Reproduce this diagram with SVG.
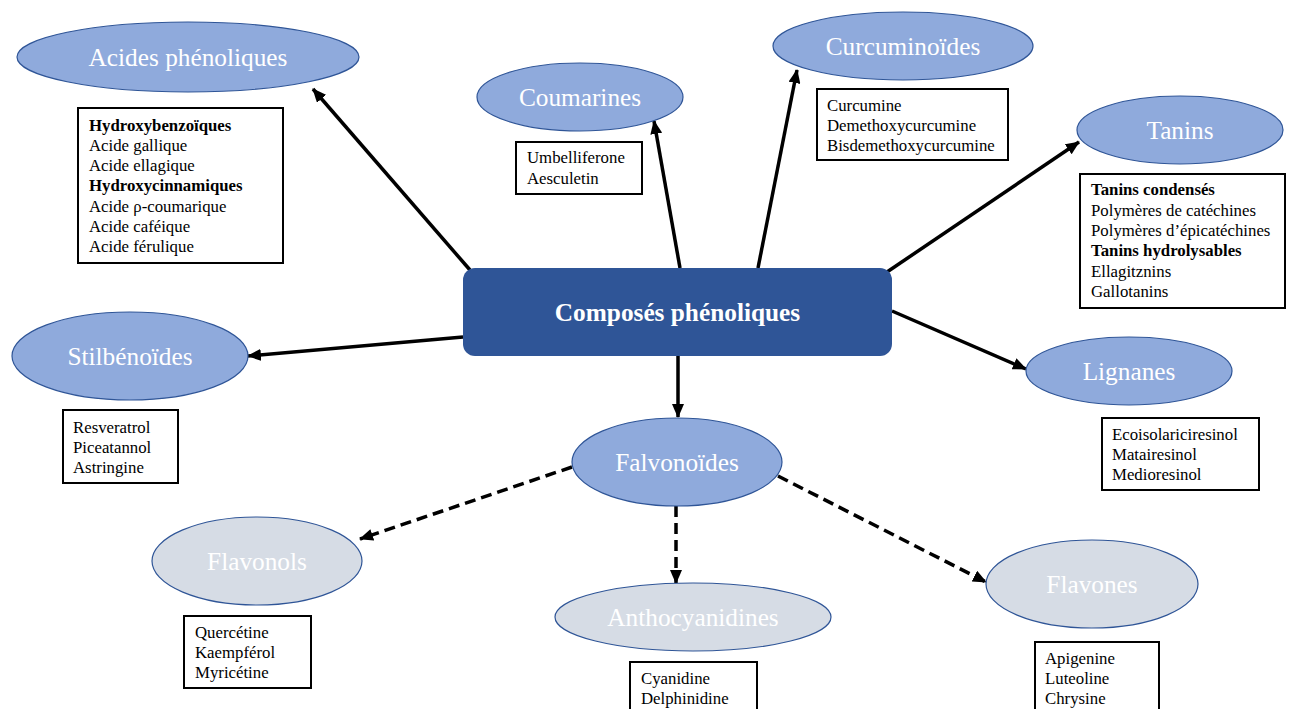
<svg xmlns="http://www.w3.org/2000/svg" width="1294" height="709" viewBox="0 0 1294 709">
<style>
.e{fill:#8FAADC;stroke:#2F5597;stroke-width:1.2}
.el{fill:#D6DCE5;stroke:#2F5597;stroke-width:1.2}
.et{font-family:"Liberation Serif","Times New Roman",serif;font-size:25.3px;fill:#FFFFFF;text-anchor:middle}
.box{fill:#FFFFFF;stroke:#000000;stroke-width:2}
.lt{font-family:"Liberation Serif","Times New Roman",serif;font-size:16.8px;fill:#000000}
.b{font-weight:bold}
.c{stroke:#000000;stroke-width:3.5;fill:none;marker-end:url(#ah)}
.d{stroke-dasharray:11 6}
</style>
<defs>
<marker id="ah" markerUnits="userSpaceOnUse" viewBox="0 0 14 12" markerWidth="14" markerHeight="12" refX="13" refY="6" orient="auto">
<path d="M0,0 L14,6 L0,12 z" fill="#000000"/>
</marker>
</defs>
<rect width="1294" height="709" fill="#FFFFFF"/>

<g id="connectors">
<line class="c" x1="470" y1="270" x2="313" y2="89"/>
<line class="c" x1="680" y1="268" x2="654" y2="121"/>
<line class="c" x1="758" y1="268" x2="797" y2="70"/>
<line class="c" x1="887" y1="272" x2="1079" y2="142"/>
<line class="c" x1="892" y1="311" x2="1026" y2="369"/>
<line class="c" x1="463" y1="337" x2="248" y2="356"/>
<line class="c" x1="678" y1="356" x2="678" y2="417"/>
<line class="c d" x1="572" y1="467" x2="360" y2="539"/>
<line class="c d" x1="676" y1="506" x2="676" y2="583"/>
<line class="c d" x1="778" y1="476" x2="986" y2="582"/>
</g>

<g id="center">
<rect x="463" y="268" width="429" height="88" rx="12" ry="12" fill="#2F5597"/>
<text x="677.5" y="321" font-family="Liberation Serif,Times New Roman,serif" font-size="25.3" font-weight="bold" fill="#FFFFFF" text-anchor="middle">Composés phénoliques</text>
</g>

<g id="acides">
<ellipse class="e" cx="188" cy="57" rx="171" ry="35"/>
<text class="et" x="188" y="66">Acides phénoliques</text>
<rect class="box" x="78" y="108" width="205" height="155"/>
<text class="lt" x="89"><tspan class="b" x="89" y="131">Hydroxybenzoïques</tspan><tspan x="89" y="151">Acide gallique</tspan><tspan x="89" y="171">Acide ellagique</tspan><tspan class="b" x="89" y="191">Hydroxycinnamiques</tspan><tspan x="89" y="212">Acide ρ-coumarique</tspan><tspan x="89" y="232">Acide caféique</tspan><tspan x="89" y="252">Acide férulique</tspan></text>
</g>

<g id="coumarines">
<ellipse class="e" cx="580" cy="97" rx="103" ry="34"/>
<text class="et" x="580" y="106">Coumarines</text>
<rect class="box" x="516" y="142" width="126" height="52"/>
<text class="lt"><tspan x="527" y="163">Umbelliferone</tspan><tspan x="527" y="184">Aesculetin</tspan></text>
</g>

<g id="curcuminoides">
<ellipse class="e" cx="903" cy="46" rx="130" ry="34"/>
<text class="et" x="903" y="55">Curcuminoïdes</text>
<rect class="box" x="817" y="89" width="191" height="71"/>
<text class="lt"><tspan x="827" y="111">Curcumine</tspan><tspan x="827" y="131">Demethoxycurcumine</tspan><tspan x="827" y="151">Bisdemethoxycurcumine</tspan></text>
</g>

<g id="tanins">
<ellipse class="e" cx="1180" cy="130" rx="103" ry="34"/>
<text class="et" x="1180" y="139">Tanins</text>
<rect class="box" x="1080" y="174" width="205" height="134"/>
<text class="lt"><tspan class="b" x="1091" y="195">Tanins condensés</tspan><tspan x="1091" y="216">Polymères de catéchines</tspan><tspan x="1091" y="236">Polymères d’épicatéchines</tspan><tspan class="b" x="1091" y="256">Tanins hydrolysables</tspan><tspan x="1091" y="277">Ellagitznins</tspan><tspan x="1091" y="297">Gallotanins</tspan></text>
</g>

<g id="lignanes">
<ellipse class="e" cx="1129" cy="371" rx="103" ry="34"/>
<text class="et" x="1129" y="380">Lignanes</text>
<rect class="box" x="1102" y="418" width="157" height="72"/>
<text class="lt"><tspan x="1112" y="440">Ecoisolariciresinol</tspan><tspan x="1112" y="460">Matairesinol</tspan><tspan x="1112" y="480">Medioresinol</tspan></text>
</g>

<g id="stilbenoides">
<ellipse class="e" cx="130" cy="356" rx="118" ry="44"/>
<text class="et" x="130" y="365">Stilbénoïdes</text>
<rect class="box" x="63" y="410" width="115" height="73"/>
<text class="lt"><tspan x="73" y="433">Resveratrol</tspan><tspan x="73" y="453">Piceatannol</tspan><tspan x="73" y="473">Astringine</tspan></text>
</g>

<g id="falvonoides">
<ellipse class="e" cx="677" cy="462" rx="105" ry="44"/>
<text class="et" x="677" y="471">Falvonoïdes</text>
</g>

<g id="flavonols">
<ellipse class="el" cx="257" cy="561" rx="105" ry="44"/>
<text class="et" x="257" y="570">Flavonols</text>
<rect class="box" x="184" y="616" width="127" height="72"/>
<text class="lt"><tspan x="195" y="638">Quercétine</tspan><tspan x="195" y="658">Kaempférol</tspan><tspan x="195" y="678">Myricétine</tspan></text>
</g>

<g id="anthocyanidines">
<ellipse class="el" cx="693" cy="617" rx="138" ry="34"/>
<text class="et" x="693" y="626">Anthocyanidines</text>
<rect class="box" x="630" y="662" width="127" height="52"/>
<text class="lt"><tspan x="641" y="684">Cyanidine</tspan><tspan x="641" y="704">Delphinidine</tspan></text>
</g>

<g id="flavones">
<ellipse class="el" cx="1092" cy="584" rx="106" ry="44"/>
<text class="et" x="1092" y="593">Flavones</text>
<rect class="box" x="1035" y="642" width="124" height="72"/>
<text class="lt"><tspan x="1045" y="664">Apigenine</tspan><tspan x="1045" y="684">Luteoline</tspan><tspan x="1045" y="704">Chrysine</tspan></text>
</g>
</svg>
